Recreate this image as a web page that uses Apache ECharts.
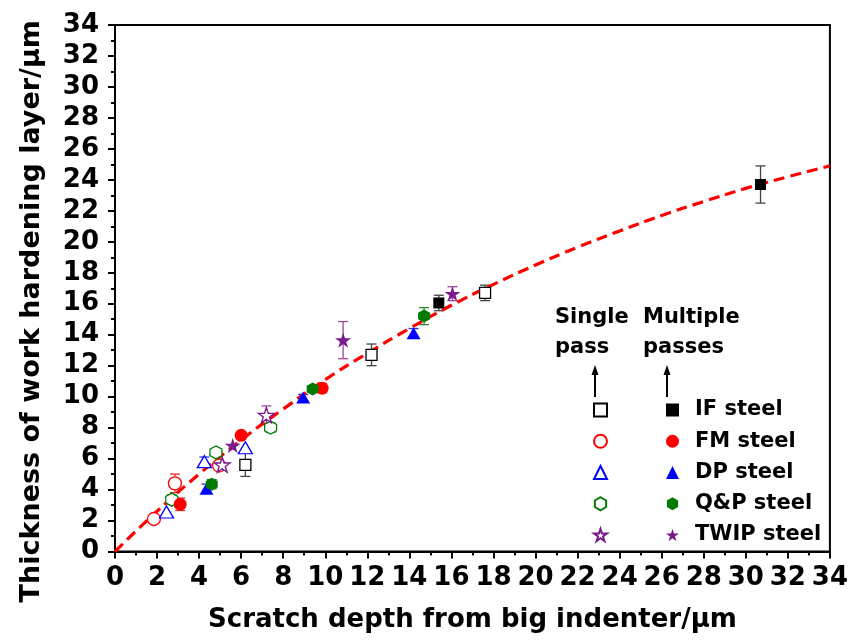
<!DOCTYPE html>
<html>
<head>
<meta charset="utf-8">
<script src="https://cdn.jsdelivr.net/npm/echarts@6/dist/echarts.min.js"></script>
<style>
  html, body { margin: 0; padding: 0; background: #fff; }
  #chart { width: 851px; height: 642px; }
</style>
</head>
<body>
<div id="chart"></div>
<script>
// Measured points: [scratch depth, layer thickness, error half-width]
const ifSingle   = [[6.2, 5.6, 0.75], [12.2, 12.7, 0.7], [17.6, 16.7, 0.5]];
const fmSingle   = [[1.85, 2.1, 0], [2.85, 4.4, 0.6], [4.95, 5.55, 0]];
const dpSingle   = [[2.45, 2.55, 0], [4.25, 5.8, 0.3], [6.2, 6.7, 0]];
const qpSingle   = [[2.7, 3.35, 0.3], [4.8, 6.4, 0], [7.4, 8.0, 0.3]];
const twipSingle = [[5.1, 5.6, 0], [7.2, 8.8, 0.6]];

const ifMulti    = [[15.4, 16.05, 0.5], [30.7, 23.7, 1.2]];
const fmMulti    = [[3.1, 3.05, 0.4], [6.0, 7.5, 0], [9.85, 10.55, 0.3]];
const dpMulti    = [[4.35, 4.05, 0.3], [8.95, 9.95, 0.2], [14.2, 14.1, 0.3]];
const qpMulti    = [[4.6, 4.35, 0.3], [9.4, 10.5, 0.2], [14.7, 15.2, 0.55]];
const twipMulti  = [[5.6, 6.85, 0], [10.85, 13.65, 1.2], [16.05, 16.65, 0.45]];

// Fitted trend (dashed red curve), read along the x axis
const fitX = [0, 2, 4, 6, 8, 10, 12, 14, 16, 18, 20, 22, 24, 26, 28, 30, 32, 34];
const fitY = [0, 2.6, 5.0, 7.2, 9.2, 11.1, 12.8, 14.4, 15.9, 17.25, 18.5, 19.65, 20.7, 21.7, 22.6, 23.45, 24.2, 24.9];

const xTicks = [0, 34, 2];
const yTicks = [0, 34, 2];

const names = ['IF steel', 'FM steel', 'DP steel', 'Q&P steel', 'TWIP steel'];
const colors = ['#000000', '#ff0000', '#0000ff', '#007a00', '#7a1a8c'];
const errColors = ['#444444', '#e03030', '#3030e0', '#2a8a2a', '#9a4a9a'];

const HEX = 'path://M50,0 L93.3,25 L93.3,75 L50,100 L6.7,75 L6.7,25 Z';
const STAR = 'path://M50,0 L61.2,34.5 L97.6,34.5 L68.2,55.9 L79.4,90.5 L50,69.1 L20.6,90.5 L31.8,55.9 L2.4,34.5 L38.8,34.5 Z';
const symbols = ['rect', 'circle', 'triangle', HEX, STAR];
const sizes = [[11, 11], [13, 13], [14, 12], [12, 13], [16, 15]];

const FONT = 'DejaVu Sans';

function errRender(color) {
  return function (params, api) {
    const x = api.value(0), y = api.value(1), e = api.value(2);
    if (!e) return null;
    const t = api.coord([x, y + e]);
    const b = api.coord([x, y - e]);
    const hw = 5;
    const st = { stroke: color, lineWidth: 1.3 };
    return {
      type: 'group',
      children: [
        { type: 'line', shape: { x1: t[0], y1: t[1], x2: b[0], y2: b[1] }, style: st },
        { type: 'line', shape: { x1: t[0] - hw, y1: t[1], x2: t[0] + hw, y2: t[1] }, style: st },
        { type: 'line', shape: { x1: b[0] - hw, y1: b[1], x2: b[0] + hw, y2: b[1] }, style: st }
      ]
    };
  };
}

const singles = [ifSingle, fmSingle, dpSingle, qpSingle, twipSingle];
const multis = [ifMulti, fmMulti, dpMulti, qpMulti, twipMulti];

const series = [];
// error bars underneath everything
[...singles, ...multis].forEach((d, k) => {
  const i = k % 5;
  series.push({
    type: 'custom', z: 2, silent: true,
    renderItem: errRender(errColors[i]),
    encode: { x: 0, y: 1 },
    data: d
  });
});
// fitted curve
series.push({
  type: 'line', z: 3, smooth: true, showSymbol: false, silent: true,
  data: fitX.map((x, i) => [x, fitY[i]]),
  lineStyle: { color: '#ff0000', width: 3.2, type: [11, 6] }
});
// open markers: single pass
singles.forEach((d, i) => {
  series.push({
    name: names[i] + ' (single pass)', type: 'scatter', z: 4,
    symbol: symbols[i], symbolSize: sizes[i],
    itemStyle: { color: '#ffffff', borderColor: colors[i], borderWidth: 1.3, opacity: 1 },
    data: d.map(p => [p[0], p[1]])
  });
});
// filled markers: multiple passes
multis.forEach((d, i) => {
  series.push({
    name: names[i], type: 'scatter', z: 5,
    symbol: symbols[i], symbolSize: sizes[i],
    itemStyle: { color: colors[i], opacity: 1 },
    data: d.map(p => [p[0], p[1]])
  });
});

const axisCommon = {
  axisLine: { show: true, onZero: false, lineStyle: { color: '#000', width: 2 } },
  axisTick: { show: true, inside: false, length: 7, lineStyle: { color: '#000', width: 2 } },
  minorTick: { show: true, splitNumber: 2, length: 4, lineStyle: { color: '#000', width: 2 } },
  splitLine: { show: false },
  axisLabel: { color: '#000', fontFamily: FONT, fontWeight: 'bold', fontSize: 26 }
};

const legendText = { color: '#000', fontFamily: FONT, fontWeight: 'bold', fontSize: 21, lineHeight: 22 };

const chart = echarts.init(document.getElementById('chart'), null, { renderer: 'canvas' });
chart.setOption({
  animation: false,
  backgroundColor: '#fff',
  grid: { left: 115, right: 21, top: 25, bottom: 90.5, show: true, borderColor: '#000', borderWidth: 2 },
  xAxis: Object.assign({}, axisCommon, {
    type: 'value', min: xTicks[0], max: xTicks[1], interval: xTicks[2],
    name: 'Scratch depth from big indenter/\u03bcm', nameLocation: 'middle', nameGap: 56,
    nameTextStyle: { color: '#000', fontFamily: FONT, fontWeight: 'bold', fontSize: 26 },
    axisLabel: Object.assign({}, axisCommon.axisLabel, { margin: 14 })
  }),
  yAxis: Object.assign({}, axisCommon, {
    type: 'value', min: yTicks[0], max: yTicks[1], interval: yTicks[2],
    name: 'Thickness of work hardening layer/\u03bcm', nameLocation: 'middle', nameGap: 70,
    nameTextStyle: { color: '#000', fontFamily: FONT, fontWeight: 'bold', fontSize: 27, padding: [0, 46, 0, 0] },
    axisLabel: Object.assign({}, axisCommon.axisLabel, { margin: 16 })
  }),
  legend: [
    {
      data: names, orient: 'vertical', left: 661, top: 394, selectedMode: false,
      itemWidth: 13, itemHeight: 13, itemGap: 9.25,
      textStyle: Object.assign({}, legendText, { padding: [0, 0, 0, 11] })
    },
    {
      data: names.map((n, i) => ({ name: n + ' (single pass)', icon: symbols[i] })),
      orient: 'vertical', left: 588, top: 394, selectedMode: false,
      itemWidth: 13, itemHeight: 13, itemGap: 9.25, formatter: () => ' ',
      textStyle: legendText
    }
  ],
  graphic: [
    { type: 'text', left: 555, top: 307, style: { text: 'Single', font: 'bold 21px "DejaVu Sans"', fill: '#000' } },
    { type: 'text', left: 555, top: 337, style: { text: 'pass', font: 'bold 21px "DejaVu Sans"', fill: '#000' } },
    { type: 'text', left: 643, top: 307, style: { text: 'Multiple', font: 'bold 21px "DejaVu Sans"', fill: '#000' } },
    { type: 'text', left: 643, top: 337, style: { text: 'passes', font: 'bold 21px "DejaVu Sans"', fill: '#000' } },
    { type: 'line', shape: { x1: 595, y1: 397, x2: 595, y2: 373 }, style: { stroke: '#000', lineWidth: 2 } },
    { type: 'polygon', shape: { points: [[595, 365], [591.5, 375], [598.5, 375]] }, style: { fill: '#000' } },
    { type: 'line', shape: { x1: 667, y1: 397, x2: 667, y2: 373 }, style: { stroke: '#000', lineWidth: 2 } },
    { type: 'polygon', shape: { points: [[667, 365], [663.5, 375], [670.5, 375]] }, style: { fill: '#000' } }
  ],
  series: series
});
</script>
</body>
</html>
